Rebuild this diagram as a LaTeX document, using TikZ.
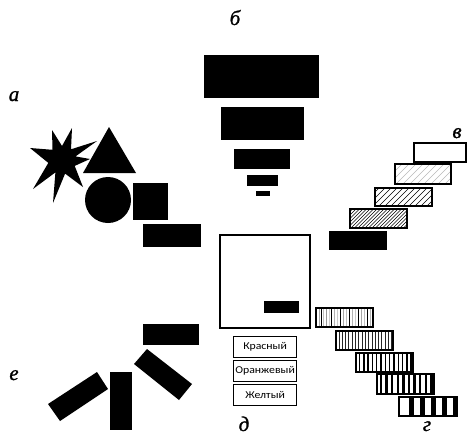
\documentclass[tikz,border=0pt]{standalone}
\usepackage{fontspec}
\setmainfont{Liberation Serif}
\newfontfamily\boxfont{Carlito}[FakeStretch=1.12]
\newfontfamily\lblfont{Liberation Serif Italic}[FakeBold=1.2]
\begin{document}
\begin{tikzpicture}[x=1pt,y=-1pt,
  lbl/.style={font=\lblfont\fontsize{21}{21}\selectfont, anchor=base, inner sep=0pt},
  frame/.style={draw=black, line width=1.4pt},
  colbox/.style={draw=black, line width=1.2pt, minimum width=63pt, minimum height=21pt, inner sep=0pt, font=\boxfont\fontsize{10.5}{10.5}\selectfont, anchor=north west}]
\useasboundingbox[fill=white] (0,0) rectangle (468,436);
% labels
\node[lbl] (la) at (14,101) {а};
\node[lbl] (lb) at (235,25) {б};
\node[lbl] (lv) at (457,138) {в};
\node[lbl] (lg) at (427,431) {г};
\node[lbl] (ld) at (244,431) {д};
\node[lbl] (le) at (14,380) {е};
% a: shapes
\fill (52,130) -- (62,146) -- (72,128) -- (71,149.3) -- (97,141) -- (75.5,156.4) -- (90,159)
  -- (74.7,165.9) -- (83,187) -- (65.1,173.6) -- (53,203) -- (55.4,172.4) -- (33,189)
  -- (48.3,162.9) -- (30,148) -- (52.5,149.8) -- cycle;
\fill (109,127) -- (136,173) -- (83,173) -- cycle;
\fill (108,200) circle (23);
\fill (133,183) rectangle (168,220);
\fill (143,224) rectangle (201,247);
% b: pyramid
\fill (204,55) rectangle (319,98);
\fill (221,107) rectangle (304,140);
\fill (234,149) rectangle (290,169);
\fill (247,175) rectangle (278,186);
\fill (256,191) rectangle (270,196);
% v: hatched bars
\draw[frame] (414,143) rectangle (466,162);
\begin{scope}
 \clip (395,164) rectangle (451,184);
 \foreach \x in {375,382,...,460} \draw[gray!55, line width=0.5pt] (\x,184) -- (\x+20,164);
\end{scope}
\draw[frame] (395,164) rectangle (451,184);
\begin{scope}
 \clip (375,188) rectangle (432,206);
 \foreach \x in {355,361,...,440} \draw[line width=0.6pt] (\x,206) -- (\x+18,188);
\end{scope}
\draw[frame] (375,188) rectangle (432,206);
\begin{scope}
 \clip (350,209) rectangle (407,228);
 \foreach \x in {330,333.5,...,412} \draw[line width=0.6pt] (\x,228) -- (\x+19,209);
\end{scope}
\draw[frame] (350,209) rectangle (407,228);
\fill (329,231) rectangle (387,250);
% d: square and colour boxes
\draw[frame] (220,235) rectangle (310,328);
\fill (264,301) rectangle (299,313);
\node[colbox] (kr) at (233,336) {Красный};
\node[colbox] (or) at (233,360) {Оранжевый};
\node[colbox] (zh) at (233,384) {Желтый};
% g: striped bars
\begin{scope}
 \clip (316,308) rectangle (373,327);
 \foreach \x/\c in {319/gray!70,321/black,323/gray!50,326/gray!80,329/gray!40,331/black,334/gray!60,337/gray!40,340/black,343/gray!70,346/gray!50,349/black,352/gray!60,355/gray!40,358/black,361/gray!70,364/gray!50,367/black,370/gray!60}
   \draw[\c, line width=0.8pt] (\x,308) -- (\x,327);
\end{scope}
\draw[frame] (316,308) rectangle (373,327);
\begin{scope}
 \clip (336,331) rectangle (393,350);
 \foreach \x in {339,342.3,...,392} \draw[black!85, line width=1pt] (\x,331) -- (\x,350);
\end{scope}
\draw[frame] (336,331) rectangle (393,350);
\begin{scope}
 \clip (356,353) rectangle (413,372);
 \foreach \x in {359.5,363.8,...,412} \draw[line width=1.4pt] (\x,353) -- (\x,372);
\end{scope}
\draw[frame] (356,353) rectangle (413,372);
\begin{scope}
 \clip (377,374) rectangle (434,394);
 \foreach \x in {381,386.6,...,433} \draw[line width=2.4pt] (\x,374) -- (\x,394);
\end{scope}
\draw[frame] (377,374) rectangle (434,394);
\begin{scope}
 \clip (399,397) rectangle (457,416);
 \foreach \x in {409,420,...,456} \fill (\x,397) rectangle (\x+5,416);
\end{scope}
\draw[frame] (399,397) rectangle (457,416);
% e: scattered bars
\fill (143,324) rectangle (199,345);
\fill (147,349) -- (192,384) -- (179,400) -- (134,364) -- cycle;
\fill (110,372) rectangle (132,430);
\fill (97,372) -- (108,389) -- (60,421) -- (48,404) -- cycle;
\end{tikzpicture}
\end{document}
